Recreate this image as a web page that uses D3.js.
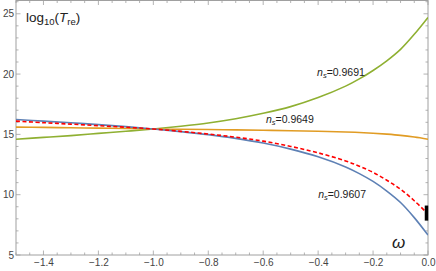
<!DOCTYPE html>
<html><head><meta charset="utf-8">
<script src="https://cdn.jsdelivr.net/npm/d3@7/dist/d3.min.js"></script>
<style>
body{margin:0;background:#fff;}
svg text{font-family:"Liberation Sans",Arial,sans-serif;}
</style></head>
<body><svg id="c" width="436" height="271"></svg>
<script>
const omega = [-1.5,-1.4,-1.3,-1.2,-1.1,-1.0,-0.9,-0.8,-0.7,-0.6,-0.5,-0.4,-0.3,-0.25,-0.2,-0.15,-0.1,-0.05,0];
const green9691 = [14.6,14.75,14.9,15.08,15.26,15.45,15.68,15.95,16.3,16.75,17.3,18.05,19.0,19.6,20.3,21.1,22.05,23.3,24.7];
const orange9649 = [15.6,15.58,15.55,15.52,15.49,15.45,15.42,15.4,15.37,15.34,15.3,15.26,15.2,15.16,15.1,15.02,14.92,14.78,14.6];
const red = [16.1,15.97,15.85,15.72,15.59,15.45,15.25,15.03,14.77,14.44,14.0,13.47,12.8,12.36,11.85,11.2,10.45,9.5,8.4];
const blue9607 = [16.24,16.1,15.96,15.81,15.64,15.45,15.23,14.98,14.67,14.28,13.78,13.14,12.3,11.75,11.1,10.3,9.35,8.1,6.65];
const errBar = {x:0, lo:7.85, hi:9.1};
const xTicks = [-1.4,-1.2,-1.0,-0.8,-0.6,-0.4,-0.2,0.0];
const yTicks = [5,10,15,20,25];
const labels = [
  {text:"0.9691", x:-0.404, y:19.84},
  {text:"0.9649", x:-0.59, y:15.92},
  {text:"0.9607", x:-0.40, y:9.73}
];

const svg = d3.select("#c");
const L=16, R=428, T=0.5, B=255;
const x = d3.scaleLinear().domain([-1.5,0]).range([L,R]);
const y = d3.scaleLinear().domain([5,26.1]).range([B,T]);
const frameCol="#a0a0a0";

const g = svg.append("g");
const xMinor = d3.range(-1.5,0.0001,0.05).map(v=>+v.toFixed(2));
const yMinor = d3.range(5,26.01,1);
xMinor.forEach(v=>{
  const major = xTicks.some(t=>Math.abs(t-v)<1e-6);
  const len = major?4.5:2.5;
  g.append("line").attr("x1",x(v)).attr("x2",x(v)).attr("y1",B).attr("y2",B-len).attr("stroke",frameCol).attr("stroke-width",0.8);
  g.append("line").attr("x1",x(v)).attr("x2",x(v)).attr("y1",T).attr("y2",T+len).attr("stroke",frameCol).attr("stroke-width",0.8);
});
yMinor.forEach(v=>{
  const major = yTicks.includes(v);
  const len = major?4.5:2.5;
  g.append("line").attr("x1",L).attr("x2",L+len).attr("y1",y(v)).attr("y2",y(v)).attr("stroke",frameCol).attr("stroke-width",0.8);
  g.append("line").attr("x1",R).attr("x2",R-len).attr("y1",y(v)).attr("y2",y(v)).attr("stroke",frameCol).attr("stroke-width",0.8);
});
g.append("rect").attr("x",L).attr("y",T).attr("width",R-L).attr("height",B-T).attr("fill","none").attr("stroke",frameCol).attr("stroke-width",1);

const xAxis = d3.axisBottom(x).tickValues(xTicks).tickSize(0).tickPadding(4)
  .tickFormat(d=>d3.format(".1f")(d).replace("-","\u2212"));
const ax = svg.append("g").attr("transform",`translate(0,${B})`).call(xAxis);
ax.select(".domain").remove();
ax.selectAll("text").attr("font-size",10).attr("fill","#444").attr("font-family","Liberation Sans, Arial, sans-serif");
const yAxis = d3.axisLeft(y).tickValues(yTicks).tickSize(0).tickPadding(2);
const ay = svg.append("g").attr("transform",`translate(${L},0)`).call(yAxis);
ay.select(".domain").remove();
ay.selectAll("text").attr("font-size",10).attr("fill","#444").attr("font-family","Liberation Sans, Arial, sans-serif");

svg.append("clipPath").attr("id","cp").append("rect").attr("x",L).attr("y",T).attr("width",R-L).attr("height",B-T);
const line = d3.line().x((d,i)=>x(omega[i])).y(d=>y(d)).curve(d3.curveCatmullRom.alpha(0.5));
const pg = svg.append("g").attr("clip-path","url(#cp)");
pg.append("path").attr("d",line(green9691)).attr("fill","none").attr("stroke","#8FB032").attr("stroke-width",1.6);
pg.append("path").attr("d",line(orange9649)).attr("fill","none").attr("stroke","#E19C24").attr("stroke-width",1.6);
pg.append("path").attr("d",line(blue9607)).attr("fill","none").attr("stroke","#5E81B5").attr("stroke-width",1.6);
pg.append("path").attr("d",line(red)).attr("fill","none").attr("stroke","#FF0000").attr("stroke-width",1.6).attr("stroke-dasharray","4,2.5");

svg.append("line").attr("x1",x(errBar.x)-1.5).attr("x2",x(errBar.x)-1.5).attr("y1",y(errBar.lo)).attr("y2",y(errBar.hi)).attr("stroke","#000").attr("stroke-width",3.5);

labels.forEach(l=>{
  const t = svg.append("text").attr("x",x(l.x)).attr("y",y(l.y)).attr("font-size",10.5).attr("fill","#222");
  t.append("tspan").attr("font-style","italic").text("n");
  t.append("tspan").attr("font-style","italic").attr("font-size",7.5).attr("dy",2).text("s");
  t.append("tspan").attr("dy",-2).text("=" + l.text);
});

const yt = svg.append("text").attr("x",26).attr("y",22).attr("font-size",13.5).attr("fill","#222");
yt.append("tspan").text("log");
yt.append("tspan").attr("font-size",9.5).attr("dy",3).text("10");
yt.append("tspan").attr("dy",-3).text("(");
yt.append("tspan").attr("font-style","italic").text("T");
yt.append("tspan").attr("font-size",9.5).attr("dy",3).text("re");
yt.append("tspan").attr("dy",-3).text(")");
svg.append("text").attr("x",392).attr("y",248).attr("font-size",17).attr("font-style","italic").attr("fill","#222").text("ω");
</script></body></html>
